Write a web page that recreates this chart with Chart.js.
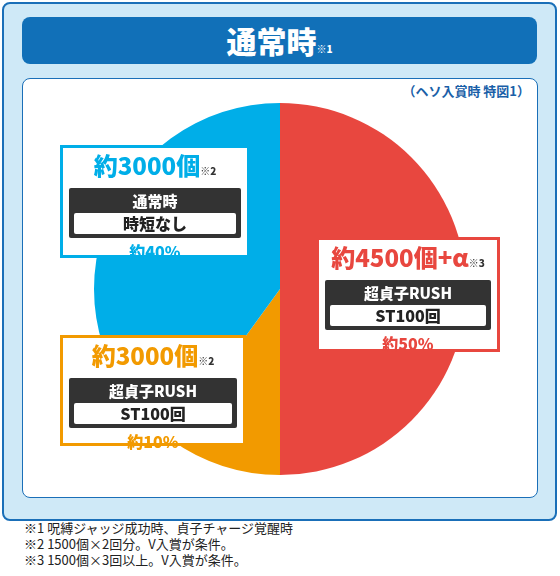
<!DOCTYPE html>
<html><head><meta charset="utf-8">
<script src="https://cdn.jsdelivr.net/npm/chart.js@4"></script>
<style>
body{margin:0;width:560px;height:576px;background:#fff;font-family:"Noto Sans CJK JP",sans-serif;position:relative;overflow:hidden}
.frame{position:absolute;left:2px;top:2px;width:551px;height:515px;background:#cfe9f7;border:2px solid #1a6fb8;border-radius:8px}
.title{position:absolute;left:22px;top:17px;width:515px;height:47px;background:#1170b8;border-radius:8px;color:#fff;text-align:center;font-weight:900;font-size:30px;line-height:47px}
.title small{font-size:10px}
.panel{position:absolute;left:22px;top:78px;width:514px;height:418px;background:#fff;border:1px solid #1a6fb8;border-radius:8px}
.sub{position:absolute;right:30px;top:81px;color:#1a5fa8;font-weight:700;font-size:13px}
#wrap{position:absolute;left:94px;top:103px;width:372px;height:372px}
.lab{position:absolute;background:#fff;border:3px solid;text-align:center;font-weight:900;box-sizing:border-box}
.big{font-size:24px;line-height:30px;margin-top:2px}
.big small{font-size:10px;color:#333}
.dark{background:#333;margin:2px 6px;border-radius:2px;color:#fff;font-size:15px;padding:2px 5px 4px}
.dark div{background:#fff;color:#222;border-radius:2px;font-size:16px;line-height:21px;margin-top:2px}
.pct{font-size:16px;line-height:22px}
.notes{position:absolute;left:24px;top:520px;font-size:13px;line-height:16px;color:#222}
</style></head><body>
<div class="frame"></div>
<div class="title">通常時<small>※1</small></div>
<div class="panel"></div>
<div class="sub">（ヘソ入賞時 特図1）</div>
<div id="wrap"><canvas id="c"></canvas></div>
<div class="lab" style="left:60px;top:145px;width:190px;height:113px;border-color:#00aee8;color:#00aee8"><div class="big">約3000個<small>※2</small></div><div class="dark">通常時<div>時短なし</div></div><div class="pct">約40%</div></div>
<div class="lab" style="left:316px;top:237px;width:184px;height:115px;border-color:#e8473f;color:#e8473f"><div class="big">約4500個+α<small>※3</small></div><div class="dark">超貞子RUSH<div>ST100回</div></div><div class="pct">約50%</div></div>
<div class="lab" style="left:60px;top:335px;width:186px;height:111px;border-color:#f29a00;color:#f29a00"><div class="big">約3000個<small>※2</small></div><div class="dark">超貞子RUSH<div>ST100回</div></div><div class="pct">約10%</div></div>
<div class="notes">※1 呪縛ジャッジ成功時、貞子チャージ覚醒時<br>※2 1500個×2回分。V入賞が条件。<br>※3 1500個×3回以上。V入賞が条件。</div>
<script>
var categories = ['超貞子RUSH 約4500個+α', '超貞子RUSH 約3000個', '通常時 約3000個'];
var shares = [50, 10, 40];
var sliceColors = ['#e8473f', '#f29a00', '#00aee8'];
new Chart(document.getElementById('c'), {
  type: 'pie',
  data: { labels: categories, datasets: [{ data: shares, backgroundColor: sliceColors, borderWidth: 0 }] },
  options: { animation: false, responsive: true, maintainAspectRatio: true,
    plugins: { legend: { display: false }, tooltip: { enabled: false } } }
});
</script>
</body></html>
